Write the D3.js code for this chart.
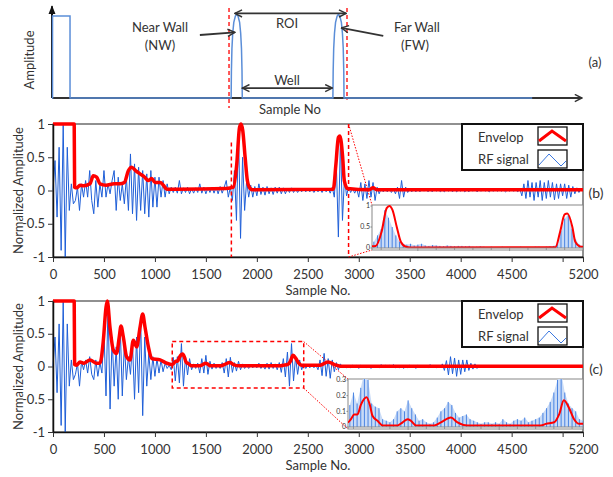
<!DOCTYPE html>
<html>
<head>
<meta charset="utf-8">
<title>RF signal and envelope</title>
<script src="https://d3js.org/d3.v7.min.js"></script>
<style>
  body { margin: 0; background: #fff; }
  svg text { font-family: Lato, "Open Sans", sans-serif; fill: #333; }
</style>
</head>
<body>
<svg id="chart" width="613" height="477"></svg>
<script>
// ---- data ----
const STEP = 20; // samples between RF values

// panel (b) RF signal, one value every STEP samples from 0 to 5200
const rfB = [
  0, 0.45, -0.4, 0.65, -0.9, 1.0, -1.0, 0.65, -0.3, 0.1,
  -0.2, -0.15, 0.05, -0.3, 0.1, -0.1, 0.15, -0.1, 0.3, -0.15,
  -0.35, 0.15, -0.25, 0.1, -0.1, 0.3, -0.1, 0.1, -0.05, 0.15,
  0.3, -0.3, 0.2, -0.15, 0.1, -0.2, 0.2, -0.3, 0.55, -0.35,
  0.4, -0.45, 0.35, -0.3, 0.3, -0.35, 0.25, -0.4, 0.3, -0.25,
  0.2, -0.25, 0.2, -0.1, 0.15, -0.1, 0.1, -0.05, 0.05, -0.03,
  0.05, -0.04, 0.15, -0.05, 0.04, -0.03, 0.05, -0.05, 0.03, -0.04,
  0.04, -0.03, 0.1, -0.04, 0.05, -0.05, 0.04, -0.03, 0.05, -0.04,
  0.05, -0.05, 0.06, -0.04, 0.05, 0.15, -0.1, 0.05, -0.15, 0.3,
  -0.45, 0.9, -0.72, 0.5, -0.3, 0.15, -0.1, 0.08, -0.1, 0.06,
  -0.08, 0.1, -0.06, 0.05, -0.07, 0.06, -0.05, 0.04, -0.06, 0.05,
  -0.04, 0.05, -0.05, 0.04, -0.05, 0.03, -0.03, 0.04, -0.03, 0.02,
  -0.03, 0.02, -0.02, 0.03, -0.02, 0.02, -0.02, 0.02, -0.03, 0.02,
  -0.02, 0.02, -0.03, 0.03, -0.02, 0.03, -0.04, 0.05, -0.1, 0.4,
  -0.7, 0.8, -0.45, 0.2, -0.08, 0.05, -0.03, 0.03, -0.04, 0.03,
  -0.1, 0.12, -0.15, 0.1, -0.12, 0.15, -0.1, 0.12, -0.15, 0.05,
  -0.05, 0.03, -0.02, 0.02, -0.02, 0.03, -0.03, 0.02, -0.05, 0.05,
  -0.12, 0.15, -0.1, 0.05, -0.03, 0.02, -0.02, 0.02, -0.02, 0.02,
  -0.02, 0.02, -0.01, 0.02, -0.02, 0.03, -0.02, 0.02, -0.01, 0.02,
  -0.02, 0.01, -0.02, 0.02, -0.01, 0.02, -0.02, 0.03, -0.02, 0.01,
  -0.01, 0.02, -0.02, 0.01, -0.02, 0.02, -0.01, 0.02, -0.02, 0.01,
  -0.01, 0.02, -0.01, 0.01, -0.02, 0.01, -0.01, 0.02, -0.01, 0.01,
  -0.01, 0.01, -0.02, 0.01, -0.01, 0.02, -0.01, 0.01, -0.02, 0.03,
  -0.08, 0.1, -0.12, 0.15, -0.1, 0.12, -0.15, 0.12, -0.1, 0.15,
  -0.15, 0.12, -0.12, 0.15, -0.1, 0.12, -0.14, 0.1, -0.12, 0.1,
  -0.08, 0.1, -0.12, 0.08, -0.1, 0.06, -0.05, 0.04, -0.03, 0.02,
  0
];

// panel (c) RF signal
const rfC = [
  0, 0.45, -0.4, 0.65, -0.9, 1.0, -1.0, 0.65, -0.3, 0.1,
  -0.2, -0.12, 0.05, -0.3, 0.08, -0.05, 0.1, -0.1, 0.15, -0.12,
  -0.2, 0.1, -0.15, 0.06, -0.1, 0.55, -0.45, 0.95, -0.65, 0.45,
  -0.3, 0.3, -0.5, 0.6, -0.45, 0.35, -0.2, 0.15, -0.12, 0.35,
  -0.5, 0.45, -0.4, 0.75, -0.75, 0.45, -0.3, 0.2, -0.2, 0.15,
  -0.15, 0.12, -0.1, 0.1, -0.08, 0.05, -0.03, 0.02, -0.05, 0.14,
  -0.22, 0.15, -0.25, 0.35, -0.3, 0.15, -0.13, 0.12, -0.05, 0.04,
  -0.03, 0.05, -0.1, 0.12, -0.1, 0.17, -0.12, 0.08, -0.04, 0.05,
  -0.03, 0.02, -0.03, 0.06, -0.1, 0.12, -0.16, 0.14, -0.09, 0.06,
  -0.07, 0.08, -0.05, 0.04, -0.03, 0.02, -0.03, 0.03, -0.02, 0.03,
  -0.02, 0.05, -0.03, 0.02, -0.04, 0.05, -0.04, 0.06, -0.03, 0.04,
  -0.05, 0.06, -0.09, 0.12, -0.16, 0.22, -0.3, 0.35, -0.22, 0.15,
  -0.12, 0.1, -0.05, 0.04, -0.03, 0.02, -0.02, 0.03, -0.02, 0.02,
  -0.05, 0.1, -0.14, 0.2, -0.15, 0.12, -0.18, 0.1, -0.08, 0.06,
  -0.05, 0.04, -0.02, 0.02, -0.02, 0.01, -0.02, 0.02, -0.01, 0.02,
  -0.03, 0.02, -0.01, 0.02, -0.02, 0.01, -0.03, 0.02, -0.02, 0.01,
  -0.02, 0.03, -0.01, 0.02, -0.02, 0.02, -0.01, 0.03, -0.02, 0.01,
  -0.02, 0.02, -0.03, 0.01, -0.02, 0.02, -0.01, 0.02, -0.03, 0.02,
  -0.01, 0.02, -0.02, 0.01, -0.02, 0.03, -0.02, 0.01, -0.02, 0.02,
  -0.02, 0.04, -0.06, 0.09, -0.13, 0.15, -0.11, 0.13, -0.15, 0.1,
  -0.12, 0.1, -0.08, 0.1, -0.06, 0.05, -0.04, 0.04, -0.03, 0.02,
  0, 0, 0, 0, 0, 0, 0, 0, 0, 0,
  0, 0, 0, 0, 0, 0, 0, 0, 0, 0,
  0, 0, 0, 0, 0, 0, 0, 0, 0, 0,
  0, 0, 0, 0, 0, 0, 0, 0, 0, 0,
  0, 0, 0, 0, 0, 0, 0, 0, 0, 0,
  0
];

// envelopes: sample number / value
const envBx = [0, 208, 212, 232, 265, 300, 363, 395, 428, 461, 520, 600, 657, 700, 740, 772, 810, 854, 900, 933, 969, 1000, 1051, 1083, 1116, 1200, 1700, 1770, 1803, 1830, 1845, 1862, 1885, 1907, 1934, 1960, 2750, 2776, 2800, 2815, 2842, 2858, 2890, 3100, 3140, 3180, 3300, 5200];
const envBy = [1, 1, 0.05, 0.04, 0.08, 0.07, 0.1, 0.22, 0.2, 0.1, 0.08, 0.1, 0.1, 0.12, 0.3, 0.35, 0.3, 0.25, 0.2, 0.15, 0.18, 0.12, 0.12, 0.08, 0.02, 0.02, 0.03, 0.05, 0.4, 0.95, 1.0, 0.9, 0.5, 0.15, 0.03, 0.01, 0.02, 0.4, 0.8, 0.82, 0.5, 0.15, 0.03, 0.01, 0.04, 0.01, 0.01, 0.01];

const envCx = [0, 208, 212, 232, 265, 300, 363, 428, 461, 494, 520, 533, 559, 592, 624, 650, 667, 690, 722, 755, 788, 821, 854, 880, 903, 936, 969, 1051, 1116, 1170, 1186, 1204, 1222, 1240, 1259, 1272, 1290, 1305, 1332, 1360, 1442, 1470, 1497, 1515, 1543, 1643, 1680, 1735, 1771, 1826, 2229, 2256, 2302, 2329, 2355, 2384, 2411, 2439, 2470, 2620, 2700, 2760, 2820, 5200];
const envCy = [1, 1, 0.03, 0.02, 0.07, 0.05, 0.1, 0.05, 0.05, 0.4, 0.9, 1.0, 0.6, 0.25, 0.2, 0.45, 0.62, 0.45, 0.15, 0.1, 0.4, 0.3, 0.6, 0.8, 0.6, 0.3, 0.12, 0.1, 0.05, 0.03, 0.05, 0.08, 0.08, 0.14, 0.18, 0.19, 0.14, 0.07, 0.04, 0.01, 0.01, 0.03, 0.05, 0.04, 0.01, 0.01, 0.03, 0.06, 0.03, 0.01, 0.01, 0.02, 0.03, 0.08, 0.17, 0.12, 0.05, 0.02, 0.02, 0.02, 0.07, 0.03, 0.005, 0.005];

// schematic signal of panel (a), x in % of the axis
const schemX = [0, 0.1, 0.1, 3.4, 3.4,
  33.8, 33.85, 33.95, 34.1, 34.3, 34.6, 34.85, 35.1, 35.4, 35.6, 35.75, 35.85, 35.9,
  53.0, 53.05, 53.15, 53.3, 53.5, 53.8, 54.05, 54.3, 54.6, 54.8, 54.95, 55.05, 55.1, 90.6];
const schemY = [0, 0, 0.91, 0.91, 0,
  0, 0.3, 0.55, 0.72, 0.84, 0.91, 0.93, 0.91, 0.84, 0.72, 0.55, 0.3, 0,
  0, 0.3, 0.55, 0.72, 0.84, 0.91, 0.93, 0.91, 0.84, 0.72, 0.55, 0.3, 0, 0];

const xTicks = [0, 500, 1000, 1500, 2000, 2500, 3000, 3500, 4000, 4500, 5000, 5200];
const xTickLabels = ["0", "500", "1000", "1500", "2000", "2500", "3000", "3500", "4000", "4500", "", "5200"];
const yTicks = [-1, -0.5, 0, 0.5, 1];
const yTickLabels = ["-1", "-0.5", "0", "0.5", "1"];
const legendLabels = ["Envelop", "RF signal"];

const roiB = [1750, 2900];          // zoom window of (b)
const roiC = [1170, 2460];          // zoom window of (c)
const roiCy = [-0.33, 0.38];
const insetBTicks = [0, 0.5, 1];
const insetCTicks = [0, 0.1, 0.2, 0.3];

// ---- drawing ----
const RED = "#ff0000", BLUE = "#1f5fd8";
const svg = d3.select("#chart");
const defs = svg.append("defs");

defs.append("marker").attr("id", "chev")
  .attr("viewBox", "0 0 10 10").attr("refX", 9).attr("refY", 5)
  .attr("markerUnits", "userSpaceOnUse").attr("markerWidth", 9).attr("markerHeight", 9)
  .attr("orient", "auto-start-reverse")
  .append("path").attr("d", "M1,1 L9,5 L1,9").attr("fill", "none")
  .attr("stroke", "#333").attr("stroke-width", 1.6);

defs.append("marker").attr("id", "tri")
  .attr("viewBox", "0 0 10 10").attr("refX", 9).attr("refY", 5)
  .attr("markerUnits", "userSpaceOnUse").attr("markerWidth", 9).attr("markerHeight", 9)
  .attr("orient", "auto")
  .append("path").attr("d", "M0,1 L10,5 L0,9 Z").attr("fill", "#111");

// panel (a)
const xa = d3.scaleLinear().domain([0, 100]).range([52, 582]);
const ya = d3.scaleLinear().domain([0, 1]).range([98, 8]);
const ga = svg.append("g");

ga.append("line").attr("x1", xa(0)).attr("y1", ya(0)).attr("x2", xa(100)).attr("y2", ya(0))
  .attr("stroke", "#333").attr("stroke-width", 2).attr("marker-end", "url(#chev)");
ga.append("line").attr("x1", xa(0)).attr("y1", ya(0)).attr("x2", xa(0)).attr("y2", ya(1.02))
  .attr("stroke", "#111").attr("stroke-width", 2).attr("marker-end", "url(#tri)");

ga.append("path")
  .datum(d3.zip(schemX, schemY))
  .attr("d", d3.line().x(d => xa(d[0])).y(d => ya(d[1])))
  .attr("fill", "none").attr("stroke", "#5b8ed8").attr("stroke-width", 1.5);

[[33.4, -0.11], [55.66, -0.02]].forEach(([v, lo]) => {
  ga.append("line").attr("x1", xa(v)).attr("x2", xa(v)).attr("y1", ya(1.0)).attr("y2", ya(lo))
    .attr("stroke", RED).attr("stroke-width", 1.3).attr("stroke-dasharray", "4,3");
});

function arrow(x1, y1, x2, y2, both) {
  const l = ga.append("line").attr("x1", xa(x1)).attr("y1", ya(y1)).attr("x2", xa(x2)).attr("y2", ya(y2))
    .attr("stroke", "#333").attr("stroke-width", 1.8).attr("marker-end", "url(#chev)");
  if (both) l.attr("marker-start", "url(#chev)");
}
arrow(34.5, 0.94, 55.5, 0.94, true);   // ROI
arrow(35.9, 0.11, 52.9, 0.11, true);   // Well
arrow(27.9, 0.7, 34.5, 0.73, false);   // NW pointer
arrow(62.5, 0.69, 54.6, 0.78, false);  // FW pointer

const aTexts = [
  ["Near Wall", 160, 27], ["(NW)", 160, 45], ["ROI", 287, 23], ["Well", 287, 80],
  ["Far Wall", 417, 27], ["(FW)", 415, 45], ["Sample No", 290, 109], ["(a)", 595, 62]
];
aTexts.forEach(([t, x, y]) => {
  ga.append("text").attr("x", x).attr("y", y).attr("dy", "0.35em")
    .attr("text-anchor", "middle").style("font-size", "13px").text(t);
});
ga.append("text").attr("transform", "translate(29,60) rotate(-90)").attr("dy", "0.35em")
  .attr("text-anchor", "middle").style("font-size", "13px").text("Amplitude");

// panels (b) and (c)
const x = d3.scaleLinear().domain([0, 5200]).range([53, 583]);

function panel(cfg) {
  const y = d3.scaleLinear().domain([-1, 1]).range([cfg.bottom, cfg.top]);
  const g = svg.append("g");
  const rf = cfg.rf.map((v, i) => [i * STEP, v]);
  const env = d3.zip(cfg.envX, cfg.envY);

  g.append("rect").attr("x", x(0)).attr("y", cfg.top).attr("width", x(5200) - x(0))
    .attr("height", cfg.bottom - cfg.top).attr("fill", "none").attr("stroke", "#222").attr("stroke-width", 1);

  g.append("path").datum(rf)
    .attr("d", d3.line().x(d => x(d[0])).y(d => y(d[1])))
    .attr("fill", "none").attr("stroke", BLUE).attr("stroke-width", 1);
  g.append("path").datum(env)
    .attr("d", d3.line().x(d => x(d[0])).y(d => y(d[1])).curve(d3.curveMonotoneX))
    .attr("fill", "none").attr("stroke", RED).attr("stroke-width", 3.5).attr("stroke-linejoin", "round");

  const xAxis = g.append("g").attr("transform", `translate(0,${cfg.bottom})`)
    .call(d3.axisBottom(x).tickValues(xTicks).tickSize(5).tickSizeOuter(0)
      .tickFormat((d, i) => xTickLabels[i]));
  const yAxis = g.append("g").attr("transform", `translate(${x(0)},0)`)
    .call(d3.axisLeft(y).tickValues(yTicks).tickSize(5).tickSizeOuter(0)
      .tickFormat((d, i) => yTickLabels[i]));
  [xAxis, yAxis].forEach(a => {
    a.select(".domain").attr("stroke", "#111").attr("stroke-width", 1.5);
    a.selectAll(".tick line").attr("stroke", "#333");
    a.selectAll(".tick text").style("font-size", "13px").attr("fill", "#333");
  });
  xAxis.selectAll(".tick text").attr("dy", "1.05em");

  g.append("text").attr("x", (x(0) + x(5200)) / 2).attr("y", cfg.bottom + 33).attr("dy", "0.35em")
    .attr("text-anchor", "middle").style("font-size", "13px").text("Sample No.");
  g.append("text").attr("transform", `translate(18,${(cfg.top + cfg.bottom) / 2}) rotate(-90)`)
    .attr("dy", "0.35em").attr("text-anchor", "middle").style("font-size", "13px")
    .text("Normalized Amplitude");
  g.append("text").attr("x", 596).attr("y", y(0) + 3).attr("dy", "0.35em")
    .attr("text-anchor", "middle").style("font-size", "14px").text(cfg.label);

  cfg.extra(g, y);

  // inset
  const ib = cfg.inset;
  const xi = d3.scaleLinear().domain(ib.domain).range([ib.left, x(5200)]);
  const yi = d3.scaleLinear().domain([0, ib.max]).range([ib.zero, ib.topY]);
  const gi = g.append("g");
  const clipId = "clip" + cfg.label.replace(/\W/g, "");
  defs.append("clipPath").attr("id", clipId).append("rect")
    .attr("x", ib.left).attr("y", ib.topY - 1).attr("width", x(5200) - ib.left).attr("height", ib.zero - ib.topY + 1.5);

  // zoom connectors
  g.append("line").attr("x1", x(ib.domain[1])).attr("y1", y(ib.srcY[1]))
    .attr("x2", ib.left).attr("y2", ib.topY - 1)
    .attr("stroke", RED).attr("stroke-width", 1).attr("stroke-dasharray", "1.5,1.5");
  g.append("line").attr("x1", x(ib.domain[1])).attr("y1", y(ib.srcY[0]))
    .attr("x2", ib.left).attr("y2", ib.boxBottom)
    .attr("stroke", RED).attr("stroke-width", 1).attr("stroke-dasharray", "1.5,1.5");

  gi.append("rect").attr("x", ib.left).attr("y", ib.topY - 1).attr("width", x(5200) - ib.left)
    .attr("height", ib.boxBottom - ib.topY + 1).attr("fill", "#fff").attr("stroke", "#888").attr("stroke-width", 1);

  const inRf = rf.filter(d => d[0] >= ib.domain[0] && d[0] <= ib.domain[1]);
  const inEnv = env.filter((d, i) => {
    const nx = env[i + 1] ? env[i + 1][0] : Infinity, px = i > 0 ? env[i - 1][0] : -Infinity;
    return nx >= ib.domain[0] && px <= ib.domain[1];
  });
  const gc = gi.append("g").attr("clip-path", `url(#${clipId})`);
  gc.append("path").datum(inRf)
    .attr("d", d3.area().x(d => xi(d[0])).y0(yi(0)).y1(d => yi(Math.abs(d[1]))))
    .attr("fill", "#c9dbf7").attr("stroke", "none");
  gc.selectAll("line.stem").data(inRf).join("line").attr("class", "stem")
    .attr("x1", d => xi(d[0])).attr("x2", d => xi(d[0]))
    .attr("y1", yi(0)).attr("y2", d => yi(Math.abs(d[1])))
    .attr("stroke", "#4a84e2").attr("stroke-width", 1);
  gc.append("path").datum(inEnv)
    .attr("d", d3.line().x(d => xi(d[0])).y(d => yi(d[1])).curve(d3.curveMonotoneX))
    .attr("fill", "none").attr("stroke", RED).attr("stroke-width", 2);

  gi.append("line").attr("x1", ib.left).attr("x2", x(5200)).attr("y1", yi(0)).attr("y2", yi(0))
    .attr("stroke", "#888").attr("stroke-width", 1);
  gi.selectAll("line.itick").data(d3.range(Math.ceil(ib.domain[0] / 100) * 100, ib.domain[1], 100))
    .join("line").attr("class", "itick")
    .attr("x1", d => xi(d)).attr("x2", d => xi(d))
    .attr("y1", yi(0)).attr("y2", d => yi(0) + (d % 500 === 0 ? 3 : 2))
    .attr("stroke", "#888").attr("stroke-width", 0.8);
  gi.selectAll("text.ilab").data(ib.ticks).join("text").attr("class", "ilab")
    .attr("x", ib.left - 2).attr("y", d => yi(d)).attr("dy", "0.35em")
    .attr("text-anchor", "end").style("font-size", "7px").attr("fill", "#777").text(d => d);
  gi.selectAll("line.iyt").data(ib.ticks).join("line").attr("class", "iyt")
    .attr("x1", ib.left - 1.5).attr("x2", ib.left).attr("y1", d => yi(d)).attr("y2", d => yi(d))
    .attr("stroke", "#888");

  // legend
  const lg = g.append("g").attr("transform", `translate(462,${cfg.top})`);
  lg.append("rect").attr("x", 0).attr("y", 0).attr("width", x(5200) - 462).attr("height", 46)
    .attr("fill", "#fff").attr("stroke", "#111").attr("stroke-width", 2);
  legendLabels.forEach((t, i) => {
    lg.append("text").attr("x", 16).attr("y", 13 + i * 22).attr("dy", "0.35em")
      .style("font-size", "13px").text(t);
    lg.append("rect").attr("x", 76).attr("y", 3 + i * 23).attr("width", 29).attr("height", 18)
      .attr("fill", "#fff").attr("stroke", "#111").attr("stroke-width", 1.3);
  });
  lg.append("path").attr("d", "M77,17 L90,7 L104,17").attr("fill", "none")
    .attr("stroke", RED).attr("stroke-width", 3);
  lg.append("path").attr("d", "M77,41 L87,30 L99,42 L104,37").attr("fill", "none")
    .attr("stroke", "#3b78e0").attr("stroke-width", 1);
}

panel({
  label: "(b)", top: 124, bottom: 257, rf: rfB, envX: envBx, envY: envBy,
  inset: { domain: roiB, left: 372, topY: 206, zero: 248, boxBottom: 250, max: 1, ticks: insetBTicks, srcY: [-1, 1] },
  extra: (g, y) => {
    g.append("line").attr("x1", x(roiB[0])).attr("x2", x(roiB[0])).attr("y1", y(0.72)).attr("y2", y(-1))
      .attr("stroke", RED).attr("stroke-width", 1.5).attr("stroke-dasharray", "4,3");
    g.append("line").attr("x1", x(roiB[1])).attr("x2", x(roiB[1])).attr("y1", y(1)).attr("y2", y(-1))
      .attr("stroke", RED).attr("stroke-width", 1.5).attr("stroke-dasharray", "4,3");
  }
});

panel({
  label: "(c)", top: 301, bottom: 432, rf: rfC, envX: envCx, envY: envCy,
  inset: { domain: roiC, left: 348, topY: 380, zero: 427, boxBottom: 429, max: 0.3, ticks: insetCTicks, srcY: roiCy },
  extra: (g, y) => {
    g.append("rect").attr("x", x(roiC[0])).attr("y", y(roiCy[1]))
      .attr("width", x(roiC[1]) - x(roiC[0])).attr("height", y(roiCy[0]) - y(roiCy[1]))
      .attr("fill", "none").attr("stroke", RED).attr("stroke-width", 1.5).attr("stroke-dasharray", "4,3");
  }
});
</script>
</body>
</html>
